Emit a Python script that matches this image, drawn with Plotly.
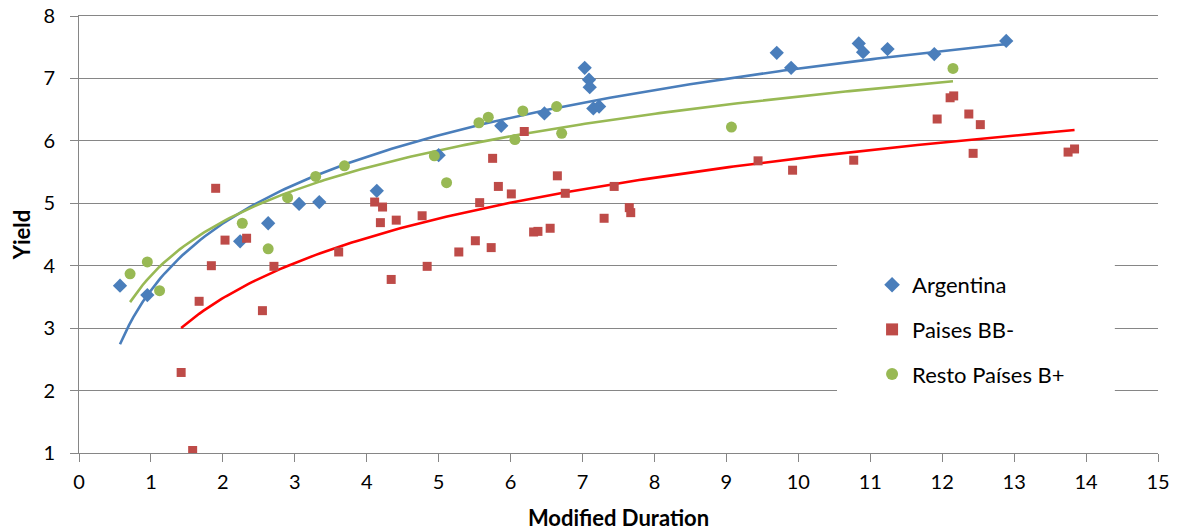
import numpy as np
import plotly.graph_objects as go

# ---- data ----
arg_x = [0.57, 0.95, 2.24, 2.63, 3.06, 3.34, 4.14, 5.00, 5.87, 6.47, 7.03, 7.09, 7.10,
         7.15, 7.23, 9.70, 9.90, 10.84, 10.90, 11.24, 11.89, 12.89]
arg_y = [3.68, 3.53, 4.39, 4.68, 4.99, 5.02, 5.20, 5.77, 6.24, 6.44, 7.17, 6.98, 6.86,
         6.52, 6.55, 7.41, 7.17, 7.56, 7.42, 7.47, 7.39, 7.60]

bb_x = [1.42, 1.58, 1.67, 1.84, 1.90, 2.03, 2.33, 2.55, 2.71, 3.61, 4.11, 4.19, 4.22,
        4.34, 4.41, 4.77, 4.84, 5.28, 5.51, 5.57, 5.73, 5.75, 5.83, 6.01, 6.19, 6.32,
        6.38, 6.55, 6.65, 6.76, 7.30, 7.44, 7.65, 7.67, 9.44, 9.92, 10.77, 11.93,
        12.11, 12.16, 12.37, 12.43, 12.53, 13.75, 13.84]
bb_y = [2.29, 1.04, 3.43, 4.00, 5.24, 4.41, 4.44, 3.28, 3.99, 4.22, 5.02, 4.69, 4.94,
        3.78, 4.73, 4.80, 3.99, 4.22, 4.40, 5.01, 4.29, 5.72, 5.27, 5.15, 6.15, 4.54,
        4.55, 4.60, 5.44, 5.16, 4.76, 5.27, 4.93, 4.85, 5.68, 5.53, 5.69, 6.35,
        6.69, 6.72, 6.43, 5.80, 6.26, 5.82, 5.87]

rb_x = [0.71, 0.95, 1.12, 2.27, 2.63, 2.90, 3.29, 3.69, 4.94, 5.11, 5.56, 5.69, 6.06,
        6.17, 6.64, 6.71, 9.07, 12.15]
rb_y = [3.87, 4.06, 3.60, 4.68, 4.27, 5.09, 5.43, 5.60, 5.76, 5.33, 6.29, 6.38, 6.02,
        6.48, 6.55, 6.12, 6.22, 7.16]

series_names = ["Argentina", "Paises BB-", "Resto Países B+"]
x_ticks = list(range(0, 16))
y_ticks = list(range(1, 9))

FONT = "Lato, 'Open Sans', sans-serif"
GRID = "#868686"


def log_trend(xs, ys):
    xs = np.asarray(xs, float)
    ys = np.asarray(ys, float)
    b, a = np.polyfit(np.log(xs), ys, 1)
    xt = np.linspace(xs.min(), xs.max(), 200)
    return xt, a + b * np.log(xt)


fig = go.Figure()

specs = [
    (arg_x, arg_y, series_names[0], "diamond", 11, "#4A7EBB", "#4A7EBB"),
    (bb_x, bb_y, series_names[1], "square", 9, "#BE4B48", "#FF0000"),
    (rb_x, rb_y, series_names[2], "circle", 11, "#98B954", "#98B954"),
]

for i, (xs, ys, name, sym, size, col, lcol) in enumerate(specs):
    xt, yt = log_trend(xs, ys)
    fig.add_trace(go.Scatter(x=xt, y=yt, mode="lines", line=dict(color=lcol, width=2.6),
                             showlegend=False, hoverinfo="skip"))

for i, (xs, ys, name, sym, size, col, lcol) in enumerate(specs):
    fig.add_trace(go.Scatter(x=xs, y=ys, mode="markers", name=name, legendgroup=name,
                             marker=dict(symbol=sym, size=size, color=col,
                                         line=dict(width=0))))

fig.add_shape(type="rect", xref="paper", yref="paper", x0=0.7025, x1=0.960,
              y0=0.075, y1=0.499, fillcolor="white", line=dict(width=0), layer="above")

fig.update_layout(
    width=1192, height=531,
    margin=dict(l=79, r=34, t=16, b=78, autoexpand=False),
    paper_bgcolor="white", plot_bgcolor="white",
    font=dict(family=FONT, size=20, color="#000000"),
    legend=dict(x=0.735, y=0.4325, xanchor="left", yanchor="top",
                bgcolor="rgba(0,0,0,0)", font=dict(size=22, family=FONT),
                tracegroupgap=13, traceorder="grouped", itemsizing="constant"),
    xaxis=dict(range=[0, 15], tickvals=x_ticks, ticktext=[str(v) for v in x_ticks],
               showgrid=False, zeroline=False, showline=True, linecolor=GRID, linewidth=1,
               mirror=True,
               ticks="outside", ticklen=8, tickcolor=GRID, ticklabelstandoff=3,
               automargin=False,
               tickfont=dict(size=20, family=FONT),
               title=dict(text="<b>Modified Duration</b>", font=dict(size=22, family=FONT),
                          standoff=19)),
    yaxis=dict(range=[1, 8], tickvals=y_ticks, ticktext=[str(v) for v in y_ticks],
               showgrid=True, gridcolor=GRID, gridwidth=1, zeroline=False,
               showline=True, linecolor=GRID, linewidth=1,
               ticks="outside", ticklen=8, tickcolor=GRID, ticklabelstandoff=11,
               automargin=False,
               tickfont=dict(size=20, family=FONT),
               title=dict(text="<b>Yield</b>", font=dict(size=22, family=FONT),
                          standoff=6)),
)

fig.write_html("out.html", config={"displayModeBar": False},
               post_script="document.body.style.margin='0px';")
